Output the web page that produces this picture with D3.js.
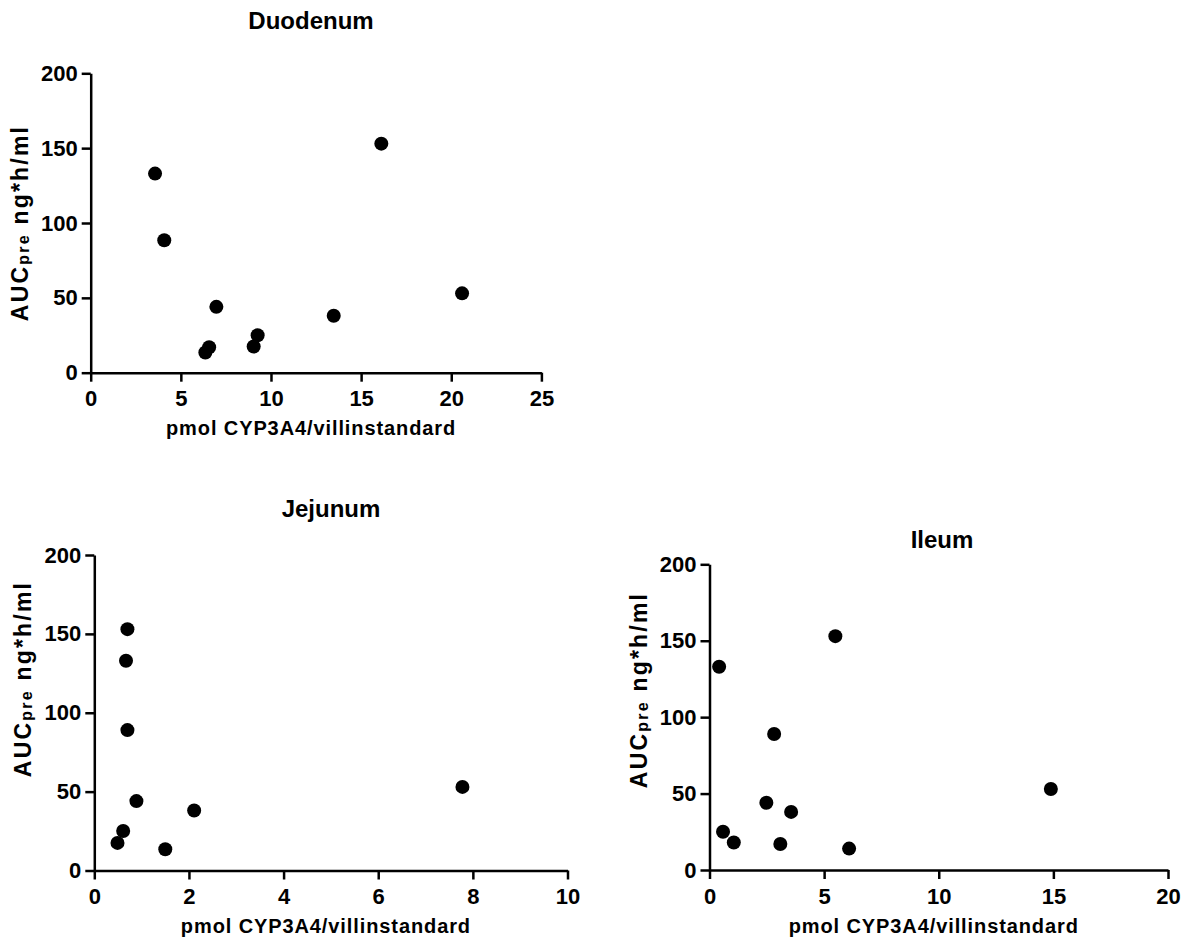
<!DOCTYPE html>
<html>
<head>
<meta charset="utf-8">
<script src="https://cdn.jsdelivr.net/npm/d3@7"></script>
<style>
  body { margin: 0; background: #fff; }
  svg { font-family: "Liberation Sans", Arial, sans-serif; font-weight: bold; }
  .tick text { font-size: 22px; font-weight: bold; fill: #000; }
  .domain, .tick line { stroke: #000; stroke-width: 2.5px; }
</style>
</head>
<body>
<svg id="chart" width="1188" height="941"></svg>
<script>
// values
const duodenumX = [3.57, 4.08, 6.36, 6.57, 6.97, 9.04, 9.26, 13.48, 16.12, 20.6];
const duodenumY = [133, 88.5, 13.5, 17, 44, 17.5, 25, 38, 153, 53];

const jejunumX = [0.70, 0.67, 0.70, 0.89, 0.61, 0.49, 1.50, 2.11, 7.78];
const jejunumY = [153, 133, 89, 44, 25, 17.5, 13.5, 38, 53];

const ileumX = [0.42, 0.59, 1.06, 2.48, 2.82, 3.09, 3.56, 5.49, 6.09, 14.89];
const ileumY = [133, 25, 18, 44, 89, 17, 38, 153, 14, 53];

const yTicks = [0, 50, 100, 150, 200];
const duodenumTicks = [0, 5, 10, 15, 20, 25];
const jejunumTicks = [0, 2, 4, 6, 8, 10];
const ileumTicks = [0, 5, 10, 15, 20];

const xTitle = "pmol CYP3A4/villinstandard";

const svg = d3.select("#chart");

// left, right, top, bottom of each plot area + label spots
const panels = [
  { title: "Duodenum", xs: duodenumX, ys: duodenumY, ticks: duodenumTicks, xMax: 25,
    box: [90.7, 541.4, 73.3, 372.7], titleX: 311, titleY: 29, yLabelY: 223 },
  { title: "Jejunum", xs: jejunumX, ys: jejunumY, ticks: jejunumTicks, xMax: 10,
    box: [94.3, 567.5, 555, 870.5], titleX: 331, titleY: 517, yLabelY: 679 },
  { title: "Ileum", xs: ileumX, ys: ileumY, ticks: ileumTicks, xMax: 20,
    box: [709.5, 1168, 564.3, 870], titleX: 942, titleY: 548, yLabelY: 690 }
];

panels.forEach(p => {
  const [left, right, top, bottom] = p.box;
  const x = d3.scaleLinear().domain([0, p.xMax]).range([left, right]);
  const y = d3.scaleLinear().domain([0, 200]).range([bottom, top]);

  svg.append("g")
    .attr("transform", `translate(0,${bottom})`)
    .call(d3.axisBottom(x).tickValues(p.ticks).tickSize(9).tickSizeOuter(0).tickPadding(9));

  svg.append("g")
    .attr("transform", `translate(${left},0)`)
    .call(d3.axisLeft(y).tickValues(yTicks).tickSize(9).tickSizeOuter(0).tickPadding(4));

  svg.selectAll(null)
    .data(d3.zip(p.xs, p.ys))
    .enter()
    .append("circle")
    .attr("cx", d => x(d[0]))
    .attr("cy", d => y(d[1]))
    .attr("r", 7)
    .attr("fill", "#000");

  const mid = (left + right) / 2;

  svg.append("text")
    .attr("x", p.titleX)
    .attr("y", p.titleY)
    .attr("text-anchor", "middle")
    .style("font-size", "24px")
    .text(p.title);

  svg.append("text")
    .attr("x", mid - 5)
    .attr("y", bottom + 62.5)
    .attr("text-anchor", "middle")
    .style("font-size", "20px")
    .style("letter-spacing", "0.9px")
    .text(xTitle);

  // y label with small "pre"
  const yl = svg.append("text")
    .attr("transform", `translate(${left - 63},${p.yLabelY}) rotate(-90)`)
    .attr("text-anchor", "middle")
    .style("font-size", "23px")
    .style("letter-spacing", "2.2px");
  yl.append("tspan").text("AUC");
  yl.append("tspan").style("font-size", "16px").attr("dy", 1).text("pre");
  yl.append("tspan").attr("dy", -1).text(" ng*h/ml");
});
</script>
</body>
</html>
